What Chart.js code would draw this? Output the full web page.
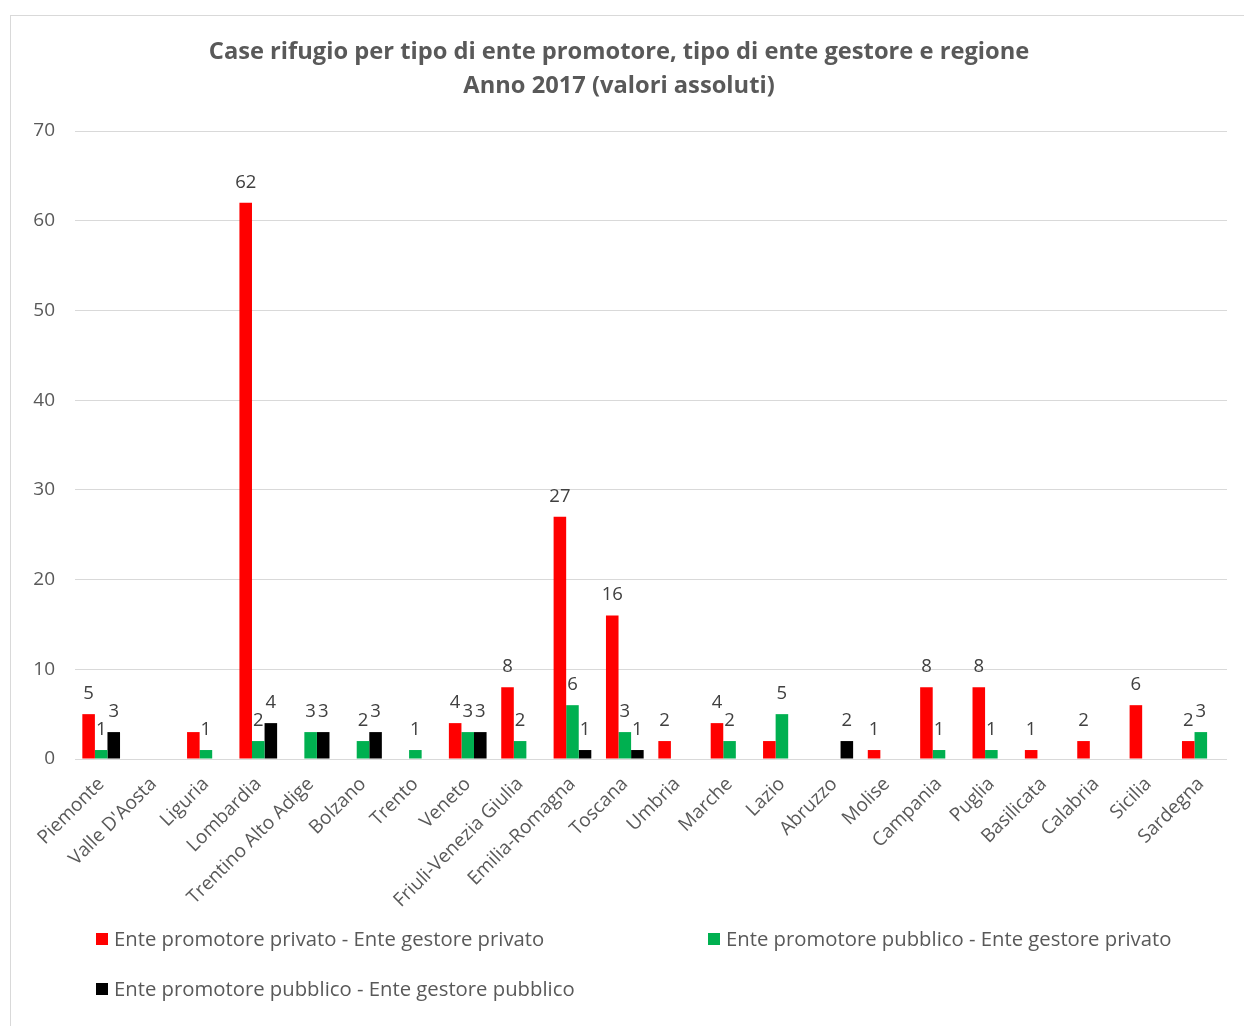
<!DOCTYPE html>
<html><head><meta charset="utf-8">
<script src="https://cdn.jsdelivr.net/npm/chart.js@4/dist/chart.umd.min.js"></script>
<style>
html,body{margin:0;padding:0;background:#fff;overflow:hidden;}
#box{position:absolute;left:10px;top:15px;width:1240px;height:1015px;border:1px solid #d9d9d9;box-sizing:border-box;background:#fff;}
canvas{display:block;}
</style></head><body>
<div id="box"><canvas id="c" width="1238" height="1013"></canvas></div>
<script>
const categories = ["Piemonte","Valle D'Aosta","Liguria","Lombardia","Trentino Alto Adige","Bolzano","Trento","Veneto","Friuli-Venezia Giulia","Emilia-Romagna","Toscana","Umbria","Marche","Lazio","Abruzzo","Molise","Campania","Puglia","Basilicata","Calabria","Sicilia","Sardegna"];
const seriesNames = ["Ente promotore privato - Ente gestore privato","Ente promotore pubblico - Ente gestore privato","Ente promotore pubblico - Ente gestore pubblico"];
const privPriv = [5,null,3,62,null,null,null,4,8,27,16,2,4,2,null,1,8,8,1,2,6,2];
const pubPriv  = [1,null,1,2,3,2,1,3,2,6,3,null,2,5,null,null,1,1,null,null,null,3];
const pubPub   = [3,null,null,4,3,3,null,3,null,1,1,null,null,null,2,null,null,null,null,null,null,null];
const colors = ["#FF0000","#00B050","#000000"];
const yTicks = [0,10,20,30,40,50,60,70];
// labels not shown in the original: [datasetIndex, categoryIndex]
const hiddenLabels = [[0,2],[0,13]];

const FONT = "'Open Sans', Lato, sans-serif";
const TXT = "#595959";

const labelPlugin = {
  id:'valLabels',
  afterDatasetsDraw(chart){
    const ctx = chart.ctx;
    ctx.save();
    ctx.font = "18.5px " + FONT;
    ctx.fillStyle = "#404040";
    ctx.textAlign = "center";
    ctx.textBaseline = "bottom";
    chart.data.datasets.forEach((ds,di)=>{
      const meta = chart.getDatasetMeta(di);
      meta.data.forEach((bar,i)=>{
        const v = ds.data[i];
        if(v===null||v===undefined) return;
        if(hiddenLabels.some(h=>h[0]===di&&h[1]===i)) return;
        ctx.fillText(String(v), bar.x, bar.y - 11);
      });
    });
    ctx.restore();
  }
};
const legendPlugin = {
  id:'customLegend',
  afterDraw(chart){
    const ctx = chart.ctx, a = chart.chartArea;
    const pos = [[a.left+21, a.bottom+180],[a.left+633, a.bottom+180],[a.left+21, a.bottom+230]];
    ctx.save();
    ctx.font = "20.3px " + FONT;
    ctx.textBaseline = "middle";
    ctx.textAlign = "left";
    chart.data.datasets.forEach((ds,i)=>{
      const [x,y] = pos[i];
      ctx.fillStyle = ds.backgroundColor;
      ctx.fillRect(x, y-6, 12, 12);
      ctx.fillStyle = TXT;
      ctx.fillText(ds.label, x+18, y+1);
    });
    ctx.restore();
  }
};

new Chart(document.getElementById('c'), {
  type:'bar',
  data:{
    labels: categories,
    datasets:[
      {label:seriesNames[0], data:privPriv, backgroundColor:colors[0]},
      {label:seriesNames[1], data:pubPriv, backgroundColor:colors[1]},
      {label:seriesNames[2], data:pubPub, backgroundColor:colors[2]}
    ]
  },
  options:{
    responsive:false,
    animation:false,
    devicePixelRatio:1,
    layout:{padding:{left:0,right:22,top:0,bottom:0}},
    datasets:{bar:{categoryPercentage:0.72,barPercentage:1.0}},
    plugins:{
      legend:{display:false},
      tooltip:{enabled:false},
      title:{display:true,text:["Case rifugio per tipo di ente promotore, tipo di ente gestore e regione","Anno 2017 (valori assoluti)"],
        color:TXT,font:{family:FONT,size:23.7,weight:'bold',lineHeight:1.435},padding:{top:19,bottom:28}}
    },
    scales:{
      y:{min:0,max:70,
        afterBuildTicks(s){ s.ticks = yTicks.map(v=>({value:v})); },
        afterFit(s){ s.width = 64; },
        grid:{color:"#d9d9d9",drawTicks:false,lineWidth:1},
        border:{display:false},
        ticks:{color:TXT,font:{family:FONT,size:19},padding:20}
      },
      x:{
        afterFit(s){ s.height = 1013 - 743; },
        grid:{display:false,drawTicks:false},
        border:{display:false},
        ticks:{color:TXT,font:{family:FONT,size:19},maxRotation:45,minRotation:45,autoSkip:false,padding:14}
      }
    }
  },
  plugins:[labelPlugin,legendPlugin]
});
</script>
</body></html>
